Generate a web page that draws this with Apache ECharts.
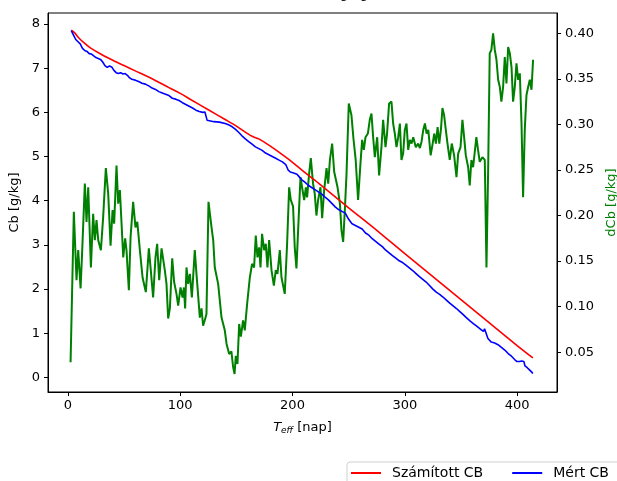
<!DOCTYPE html>
<html>
<head>
<meta charset="utf-8">
<script src="https://cdn.jsdelivr.net/npm/echarts@6/dist/echarts.min.js"></script>
<style>html,body{margin:0;padding:0;background:#fff;}#c{width:617px;height:481px;}</style>
</head>
<body>
<div id="c"></div>
<script>
// Számított CB (computed)
const redDays = [3,6,10,15,20,30,40,50,60,75,90,100,110,125,140,150,160,165,170,180,190,200,210,225,250,275,300,325,350,375,400,414];
const redCb   = [7.86,7.80,7.68,7.56,7.46,7.31,7.18,7.06,6.94,6.76,6.56,6.43,6.28,6.06,5.84,5.69,5.52,5.45,5.40,5.24,5.06,4.87,4.66,4.36,3.84,3.33,2.80,2.28,1.76,1.24,0.72,0.44];

// Mért CB (measured)
const blueDays = [3,5,7,9,11,13,15,17,19,21,23,25,27,29,31,33,35,37,39,41,43,45,47,49,51,53,55,57,60,63,66,69,72,75,78,81,84,87,90,93,96,99,102,105,108,111,114,117,120,122,123,124,125,130,135,140,143,146,149,152,155,158,161,164,167,170,173,176,179,182,185,188,191,194,196,198,201,204,206,208,211,214,217,220,223,226,229,232,235,238,241,244,247,250,253,256,259,262,265,268,271,274,277,280,283,286,289,292,295,298,301,304,307,310,313,316,319,322,325,328,331,334,337,340,343,346,349,352,355,358,361,364,367,370,371,372,374,377,380,383,386,389,392,395,398,400,402,404,406,407,409,411,413,414];
const blueCb   = [7.85,7.75,7.65,7.60,7.55,7.45,7.40,7.38,7.33,7.32,7.28,7.24,7.22,7.20,7.14,7.06,7.02,7.05,7.03,6.95,6.90,6.88,6.90,6.87,6.88,6.84,6.78,6.75,6.73,6.70,6.66,6.64,6.60,6.55,6.52,6.47,6.44,6.41,6.38,6.32,6.30,6.27,6.22,6.18,6.14,6.10,6.05,6.02,6.00,6.01,5.98,5.82,5.79,5.79,5.78,5.75,5.72,5.68,5.62,5.55,5.47,5.40,5.34,5.28,5.22,5.18,5.14,5.08,5.04,5.00,4.96,4.92,4.88,4.82,4.70,4.65,4.63,4.60,4.54,4.48,4.42,4.35,4.30,4.25,4.20,4.15,4.08,4.02,3.94,3.86,3.80,3.76,3.72,3.58,3.48,3.44,3.40,3.36,3.27,3.22,3.14,3.08,3.02,2.96,2.88,2.82,2.76,2.70,2.64,2.60,2.54,2.48,2.42,2.35,2.28,2.22,2.16,2.08,2.00,1.93,1.88,1.82,1.75,1.68,1.62,1.56,1.49,1.42,1.35,1.28,1.22,1.16,1.10,1.04,1.10,1.08,0.88,0.80,0.78,0.74,0.68,0.62,0.54,0.48,0.40,0.36,0.36,0.37,0.36,0.26,0.22,0.17,0.12,0.09];

// dCb (right axis)
const greenDays = [2.4,5.3,7.7,9.2,11.3,12.5,15.1,16.6,18.1,20.5,22.5,24,25.5,27,29.4,31.4,33.8,35.9,38,39.8,41.2,43.3,44.8,46.3,49.3,51,52.2,54.3,55.8,58.1,60.2,61.8,64.1,66.5,69.4,72.1,73.6,75.9,78,79.5,81.3,83.4,86.3,87.8,89.3,90.8,92.9,94.6,96.7,98.2,100.3,102.1,103.3,104.4,105.6,107.1,108.6,110.4,113,114.5,116,117.5,119,120.4,121.9,123.4,125.2,127.9,129.4,130.8,133.8,136.8,139.7,141.3,143.6,145.6,147.1,148.4,149.5,151,152.5,154,156,157.5,159.6,162,164,165.8,167.3,168.8,170.3,171.5,172.9,174.7,176.2,177.7,179.2,181.3,183.4,185.1,186.6,188.7,190.2,193.1,195.2,197,198.5,200.5,202,203.5,205,207.1,208.9,210.4,211.9,213,214.8,216.3,218.3,219.8,221.3,222.8,224.9,226.4,228.2,230.3,231.8,233.3,235.3,237.1,238.6,240.1,242.2,243.6,245.1,246.6,248.1,250.1,252.5,254.3,256.2,258.4,260.5,262,263.5,265,267.1,268.8,270.3,271.8,273.3,275.4,277.1,279.2,280.7,282.8,284.2,286,288.1,289.6,291.1,292.6,294.1,295.6,297,298.5,300,301.5,303,304.5,306,307.5,309.8,311.9,313.4,314.9,316.4,317.9,319.4,320.9,323,324.8,326.2,327.7,329.2,330.7,332.2,333.5,335,336.5,338,340,341.8,343.9,346,347.5,349.6,351.3,352.8,354.3,356.4,357.8,359.3,360.8,362.3,363.7,365.2,366.7,369.1,371.2,372.7,374.2,375.6,377.1,378.6,380.1,381.6,383.1,384.6,386,387.5,389,390.5,392,393.5,395,396.4,397.9,399.4,400.9,402.4,403.9,405.3,406.8,408.3,409.8,411.3,412.8,414.2];
const greenDCb  = [0.039,0.204,0.129,0.162,0.120,0.154,0.235,0.193,0.231,0.143,0.202,0.173,0.195,0.173,0.162,0.198,0.252,0.224,0.167,0.206,0.191,0.255,0.213,0.228,0.154,0.175,0.162,0.118,0.176,0.215,0.187,0.193,0.162,0.132,0.116,0.164,0.143,0.110,0.154,0.169,0.129,0.164,0.140,0.125,0.087,0.098,0.153,0.127,0.114,0.101,0.121,0.110,0.121,0.098,0.143,0.125,0.136,0.110,0.162,0.136,0.138,0.088,0.098,0.079,0.085,0.092,0.215,0.187,0.173,0.143,0.125,0.088,0.074,0.059,0.048,0.051,0.034,0.026,0.046,0.037,0.081,0.067,0.085,0.074,0.103,0.132,0.147,0.143,0.178,0.154,0.165,0.143,0.180,0.162,0.169,0.143,0.173,0.140,0.123,0.140,0.136,0.162,0.132,0.114,0.169,0.231,0.217,0.210,0.165,0.142,0.184,0.242,0.228,0.217,0.231,0.220,0.246,0.263,0.235,0.224,0.200,0.217,0.231,0.197,0.228,0.252,0.235,0.261,0.279,0.248,0.250,0.231,0.213,0.184,0.171,0.206,0.246,0.323,0.310,0.284,0.262,0.217,0.257,0.283,0.272,0.286,0.290,0.305,0.312,0.286,0.264,0.286,0.244,0.275,0.305,0.275,0.290,0.323,0.325,0.301,0.290,0.275,0.286,0.301,0.261,0.268,0.294,0.301,0.272,0.283,0.279,0.286,0.275,0.279,0.274,0.281,0.294,0.301,0.290,0.294,0.266,0.279,0.290,0.279,0.297,0.279,0.295,0.318,0.310,0.294,0.279,0.261,0.279,0.266,0.242,0.268,0.275,0.305,0.286,0.266,0.253,0.233,0.261,0.253,0.270,0.286,0.272,0.259,0.264,0.261,0.143,0.250,0.378,0.382,0.400,0.382,0.371,0.349,0.341,0.325,0.341,0.374,0.345,0.385,0.378,0.363,0.325,0.341,0.367,0.349,0.356,0.301,0.220,0.294,0.332,0.341,0.349,0.338,0.371];

const xTicks = [0,100,200,300,400];
const leftTicks = [0,1,2,3,4,5,6,7,8];
const rightTicks = [0.05,0.10,0.15,0.20,0.25,0.30,0.35,0.40];

const zip = (a,b) => a.map((v,i)=>[v,b[i]]);
const FONT = 'DejaVu Sans';
const chart = echarts.init(document.getElementById('c'), null, {renderer:'canvas'});
chart.setOption({
  animation:false,
  backgroundColor:'#fff',
  textStyle:{fontFamily:FONT},
  grid:{left:48, right:60, top:13, bottom:89, show:true, borderColor:'#000', borderWidth:1, containLabel:false, outerBoundsMode:'none'},
  graphic:[
    {type:'text', left:'center', top:-12, style:{
      rich:{b:{fontSize:13,fontFamily:FONT,fill:'#222',fontStyle:'italic'},s:{fontSize:9,fontFamily:FONT,fill:'#222',fontStyle:'italic',padding:[6,0,0,0]},n:{fontSize:13,fontFamily:FONT,fill:'#222'}},
      text:'{b|C}{s|zand}{n| = 0.322 [g/kg]}'}}
  ],
  legend:{
    left:347, top:462, orient:'horizontal', width:290,
    itemWidth:30, itemHeight:2, itemGap:29,
    padding:[4,20,4,4],
    borderColor:'#d0d0d0', borderWidth:1, borderRadius:3,
    textStyle:{fontFamily:FONT, fontSize:14, color:'#000', padding:[0,0,0,6]},
    data:[{name:'Számított CB',icon:'rect'},{name:'Mért CB',icon:'rect'}]
  },
  xAxis:{
    type:'value', min:-17.7, max:435.5,
    name:'{i|T}{s|eff}{n| [nap]}', nameLocation:'middle', nameGap:28,
    nameTextStyle:{rich:{i:{fontSize:13,fontStyle:'italic',fontFamily:FONT,color:'#000'},s:{fontSize:9,fontStyle:'italic',fontFamily:FONT,color:'#000',padding:[6,0,0,0]},n:{fontSize:13,fontFamily:FONT,color:'#000'}}},
    splitLine:{show:false},
    axisLine:{onZero:false,lineStyle:{color:'#000'}},
    axisTick:{show:true,length:4,lineStyle:{color:'#000'},customValues:xTicks},
    axisLabel:{fontSize:13,color:'#000',fontFamily:FONT,margin:7,customValues:xTicks}
  },
  yAxis:[
    {type:'value', min:-0.33, max:8.25, position:'left',
     name:'Cb [g/kg]', nameLocation:'middle', nameGap:27, nameRotate:90,
     nameTextStyle:{fontSize:13,color:'#000',fontFamily:FONT},
     splitLine:{show:false},
     axisLine:{show:true,onZero:false,lineStyle:{color:'#000'}},
     axisTick:{show:true,length:4,lineStyle:{color:'#000'},customValues:leftTicks},
     axisLabel:{fontSize:13,color:'#000',fontFamily:FONT,margin:8,customValues:leftTicks}},
    {type:'value', min:0.0063, max:0.4223, position:'right',
     name:'dCb [g/kg]', nameLocation:'middle', nameGap:46, nameRotate:90,
     nameTextStyle:{fontSize:13,color:'#008000',fontFamily:FONT},
     splitLine:{show:false},
     axisLine:{show:true,onZero:false,lineStyle:{color:'#000'}},
     axisTick:{show:true,length:4,lineStyle:{color:'#000'},customValues:rightTicks},
     axisLabel:{fontSize:13,color:'#000',fontFamily:FONT,margin:8,customValues:rightTicks,formatter:v=>v.toFixed(2)}}
  ],
  series:[
    {name:'dCb', type:'line', yAxisIndex:1, data:zip(greenDays,greenDCb), symbol:'none', lineStyle:{color:'#008000',width:2}, itemStyle:{color:'#008000'}, z:1},
    {name:'Számított CB', type:'line', yAxisIndex:0, data:zip(redDays,redCb), symbol:'none', smooth:0.3, lineStyle:{color:'#ff0000',width:1.6}, itemStyle:{color:'#ff0000'}, z:2},
    {name:'Mért CB', type:'line', yAxisIndex:0, data:zip(blueDays,blueCb), symbol:'none', lineStyle:{color:'#0000ff',width:1.6}, itemStyle:{color:'#0000ff'}, z:3}
  ]
});
</script>
</body>
</html>
